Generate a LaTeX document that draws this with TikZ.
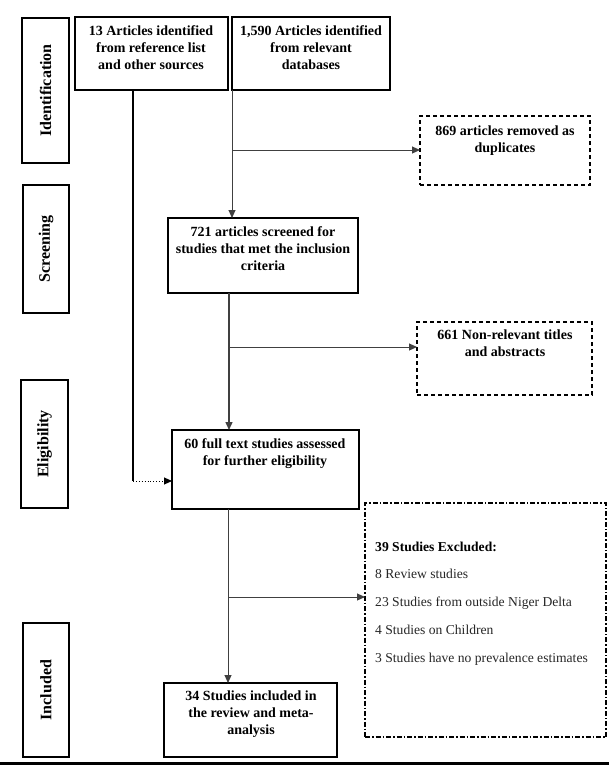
\documentclass[tikz,border=0pt]{standalone}
\usepackage{fontspec}
\setmainfont{Liberation Serif}
\usetikzlibrary{arrows.meta}
\newcommand{\fs}{\fontsize{14}{16.8}\selectfont}
\tikzset{
  box/.style={draw, line width=2pt, inner sep=0pt, outer sep=0pt},
  dbox/.style={draw, line width=1.8pt, dash pattern=on 4pt off 3pt, inner sep=0pt, outer sep=0pt},
  ddbox/.style={draw, line width=1.4pt, dash pattern=on 5pt off 2pt on 1.5pt off 2pt, inner sep=0pt, outer sep=0pt},
  txt/.style={font=\fs\bfseries, align=center, anchor=north, inner sep=0pt},
  side/.style={font=\fontsize{16}{18}\selectfont\bfseries, rotate=90, inner sep=0pt},
  conn/.style={line width=1pt, draw=black!75},
  arr/.style={conn, -{Triangle[length=8pt,width=7pt]}, shorten >=0pt},
}
\begin{document}
\begin{tikzpicture}[x=1pt, y=-1pt]
\useasboundingbox (0,0) rectangle (609,769);
% side boxes
\node[box, minimum width=47pt, minimum height=145pt] (Id) at (45.5,90.5) {};
\node[box, minimum width=46pt, minimum height=128pt] (Sc) at (46,249) {};
\node[box, minimum width=47pt, minimum height=128pt] (El) at (44.5,444) {};
\node[box, minimum width=46pt, minimum height=134pt] (In) at (46,690) {};
\node[side] (IdT) at (Id.center) {Identification};
\node[side] (ScT) at (Sc.center) {Screening};
\node[side] (ElT) at (El.center) {Eligibility};
\node[side] (InT) at (In.center) {Included};
% main boxes
\node[box, minimum width=153pt, minimum height=73pt] (A) at (151.5,53.5) {};
\node[box, minimum width=158pt, minimum height=73pt] (B) at (311,53.5) {};
\node[dbox, minimum width=170pt, minimum height=69pt] (D) at (505,150.5) {};
\node[box, minimum width=190pt, minimum height=75pt] (C) at (263,255.5) {};
\node[dbox, minimum width=175pt, minimum height=73pt] (F) at (504.5,358.5) {};
\node[box, minimum width=187pt, minimum height=79pt] (E) at (265.5,469.5) {};
\node[ddbox, minimum width=241pt, minimum height=234pt] (H) at (485.5,620) {};
\node[box, minimum width=173pt, minimum height=74pt] (G) at (250.5,720) {};
% texts
\node[txt] (At) at (151,25.5) {13 Articles identified\\from reference list\\and other sources};
\node[txt] (Bt) at (311,25.5) {1,590 Articles identified\\from relevant\\databases};
\node[txt] (Dt) at (505,125.5) {869 articles removed as\\duplicates};
\node[txt] (Ct) at (263,226.5) {721 articles screened for\\studies that met the inclusion\\criteria};
\node[txt] (Ft) at (505,329.5) {661 Non-relevant titles\\and abstracts};
\node[txt] (Et) at (265,438.5) {60 full text studies assessed\\for further eligibility};
\node[txt] (Gt) at (251,690.5) {34 Studies included in\\the review and meta-\\analysis};
\node[anchor=north west, inner sep=0pt, align=left, font=\fontsize{13.6}{27.8}\selectfont, text=black!85] (Ht) at (375,541.5)
  {\textbf{\color{black}39 Studies Excluded:}\\8 Review studies\\23 Studies from outside Niger Delta\\4 Studies on Children\\3 Studies have no prevalence estimates};
% bottom rule
\coordinate (L0) at (0,763);
\coordinate (L1) at (609,763);
\draw[line width=3pt] (L0) -- (L1);
% connectors
\coordinate (a1) at (133,481);
\draw[line width=2pt] (A.south -| a1) -- (a1);
\draw[line width=0.9pt, dotted, -{Triangle[length=8pt,width=7pt]}] (a1) -- (a1 -| E.west);
\coordinate (b1) at (232,150);
\draw[arr] (B.south west) -- (B.south west |- C.north);
\draw[arr] (b1) -- (D.west |- b1);
\coordinate (c0) at (229,293);
\coordinate (c1) at (229,347);
\draw[arr, line width=1.4pt] (c0) -- (c0 |- E.north);
\draw[arr] (c1) -- (F.west |- c1);
\coordinate (e0) at (228,509);
\coordinate (e1) at (228,597);
\draw[arr] (e0) -- (e0 |- G.north);
\draw[arr] (e1) -- (H.west |- e1);
\end{tikzpicture}
\end{document}
